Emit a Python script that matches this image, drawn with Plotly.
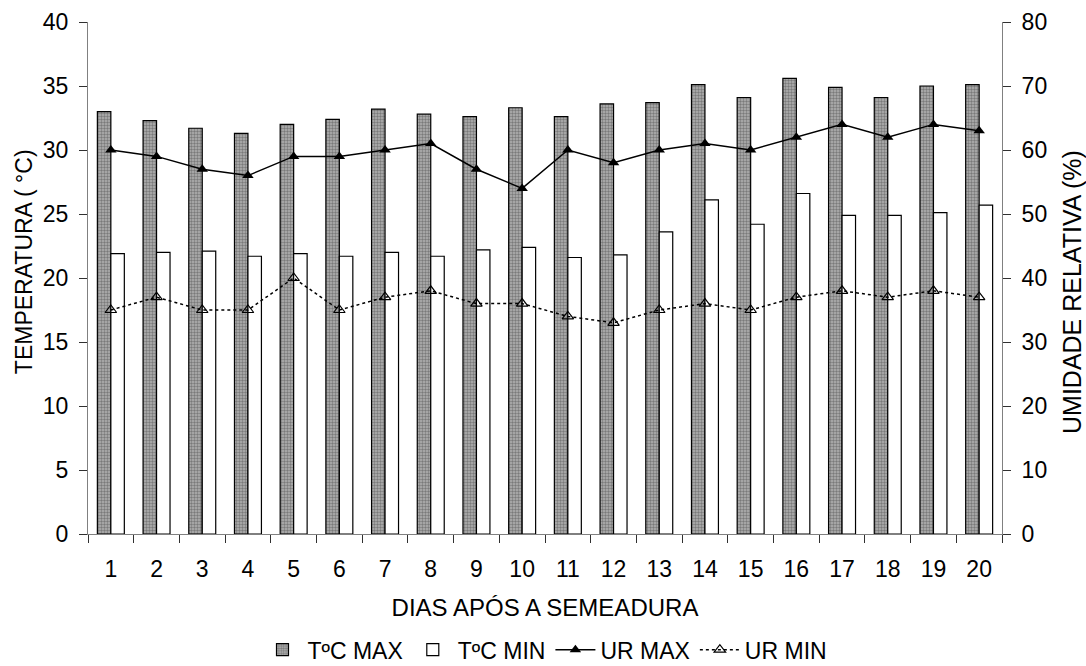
import plotly.graph_objects as go

dias = list(range(1, 21))
t_max = [33.0, 32.3, 31.7, 31.3, 32.0, 32.4, 33.2, 32.8, 32.6, 33.3,
         32.6, 33.6, 33.7, 35.1, 34.1, 35.6, 34.9, 34.1, 35.0, 35.1]
t_min = [21.9, 22.0, 22.1, 21.7, 21.9, 21.7, 22.0, 21.7, 22.2, 22.4,
         21.6, 21.8, 23.6, 26.1, 24.2, 26.6, 24.9, 24.9, 25.1, 25.7]
ur_max = [60, 59, 57, 56, 59, 59, 60, 61, 57, 54,
          60, 58, 60, 61, 60, 62, 64, 62, 64, 63]
ur_min = [35, 37, 35, 35, 40, 35, 37, 38, 36, 36,
          34, 33, 35, 36, 35, 37, 38, 37, 38, 37]

FONT = "Liberation Sans, Arial, sans-serif"
FS = 23
AXL = "#808080"
TK = "#303030"

fig = go.Figure()
fig.add_trace(go.Bar(
    x=dias, y=t_max, name="TºC MAX",
    marker=dict(color="#8c8c8c", line=dict(color="black", width=1.2),
                pattern=dict(shape=".", size=3, solidity=0.5,
                             fgcolor="#404040", bgcolor="#b4b4b4")),
))
fig.add_trace(go.Bar(
    x=dias, y=t_min, name="TºC MIN",
    marker=dict(color="white", line=dict(color="black", width=1.2)),
))
fig.add_trace(go.Scatter(
    x=dias, y=ur_max, name="UR MAX", yaxis="y2", mode="lines+markers",
    line=dict(color="black", width=1.5),
    marker=dict(symbol="triangle-up", size=10, color="black"),
))
fig.add_trace(go.Scatter(
    x=dias, y=ur_min, name="UR MIN", yaxis="y2", mode="lines+markers",
    line=dict(color="black", width=1.5, dash="dot"),
    marker=dict(symbol="triangle-up-open", size=10, color="black",
                line=dict(width=1.2)),
))

half = [i + 0.5 for i in range(0, 21)]

fig.update_layout(
    width=1086, height=666,
    margin=dict(l=88, r=84, t=22, b=132, autoexpand=False),
    paper_bgcolor="white", plot_bgcolor="white",
    font=dict(family=FONT, size=FS, color="black"),
    barmode="group", bargap=0.41, bargroupgap=0,
    showlegend=True,
    legend=dict(orientation="h", x=0.5, xanchor="center", y=-0.226,
                yanchor="middle", font=dict(size=FS), itemwidth=40,
                traceorder="normal", tracegroupgap=0),
    xaxis=dict(
        range=[0.5, 20.5], tickmode="array", tickvals=dias,
        ticktext=[str(d) for d in dias], ticks="", showgrid=False,
        ticklabelstandoff=14, automargin=False,
        showline=True, linecolor=AXL, linewidth=1, zeroline=False,
        title=dict(text="DIAS APÓS A SEMEADURA", font=dict(size=24), standoff=18),
        minor=dict(tickmode="array", tickvals=half, ticks="outside",
                   ticklen=8, tickcolor=TK, tickwidth=1, showgrid=False),
    ),
    xaxis3=dict(
        range=[0.5, 20.5], overlaying="x", anchor="y", tickmode="array",
        tickvals=half, ticks="inside", ticklen=8, tickcolor=TK,
        showticklabels=False, showgrid=False, showline=False, zeroline=False,
        automargin=False,
    ),
    yaxis=dict(
        range=[0, 40], tickmode="linear", tick0=0, dtick=5,
        ticks="outside", ticklen=8, tickcolor=TK, showgrid=False,
        ticklabelstandoff=6, automargin=False,
        showline=True, linecolor=AXL, linewidth=1, zeroline=False,
    ),
    yaxis3=dict(
        range=[0, 40], overlaying="y", anchor="x", side="left",
        tickmode="linear", tick0=0, dtick=5, ticks="inside", ticklen=8,
        tickcolor=TK, showticklabels=False, showgrid=False, showline=False,
        zeroline=False, automargin=False,
    ),
    yaxis2=dict(
        range=[0, 80], overlaying="y", side="right", anchor="x",
        tickmode="linear", tick0=0, dtick=10,
        ticks="outside", ticklen=8, tickcolor=TK, showgrid=False,
        ticklabelstandoff=6, automargin=False,
        showline=True, linecolor=AXL, linewidth=1, zeroline=False,
    ),
    yaxis4=dict(
        range=[0, 80], overlaying="y", side="right", anchor="x",
        tickmode="linear", tick0=0, dtick=10, ticks="inside", ticklen=8,
        tickcolor=TK, showticklabels=False, showgrid=False, showline=False,
        zeroline=False, automargin=False,
    ),
    annotations=[
        dict(text="TEMPERATURA ( °C)", xref="paper", yref="paper",
             x=-0.0700, y=0.531, xanchor="center", yanchor="middle",
             textangle=-90, showarrow=False, font=dict(size=23)),
        dict(text="UMIDADE RELATIVA (%)", xref="paper", yref="paper",
             x=1.0766, y=0.4727, xanchor="center", yanchor="middle",
             textangle=-90, showarrow=False, font=dict(size=25)),
    ],
)

fig.write_html("out.html")
